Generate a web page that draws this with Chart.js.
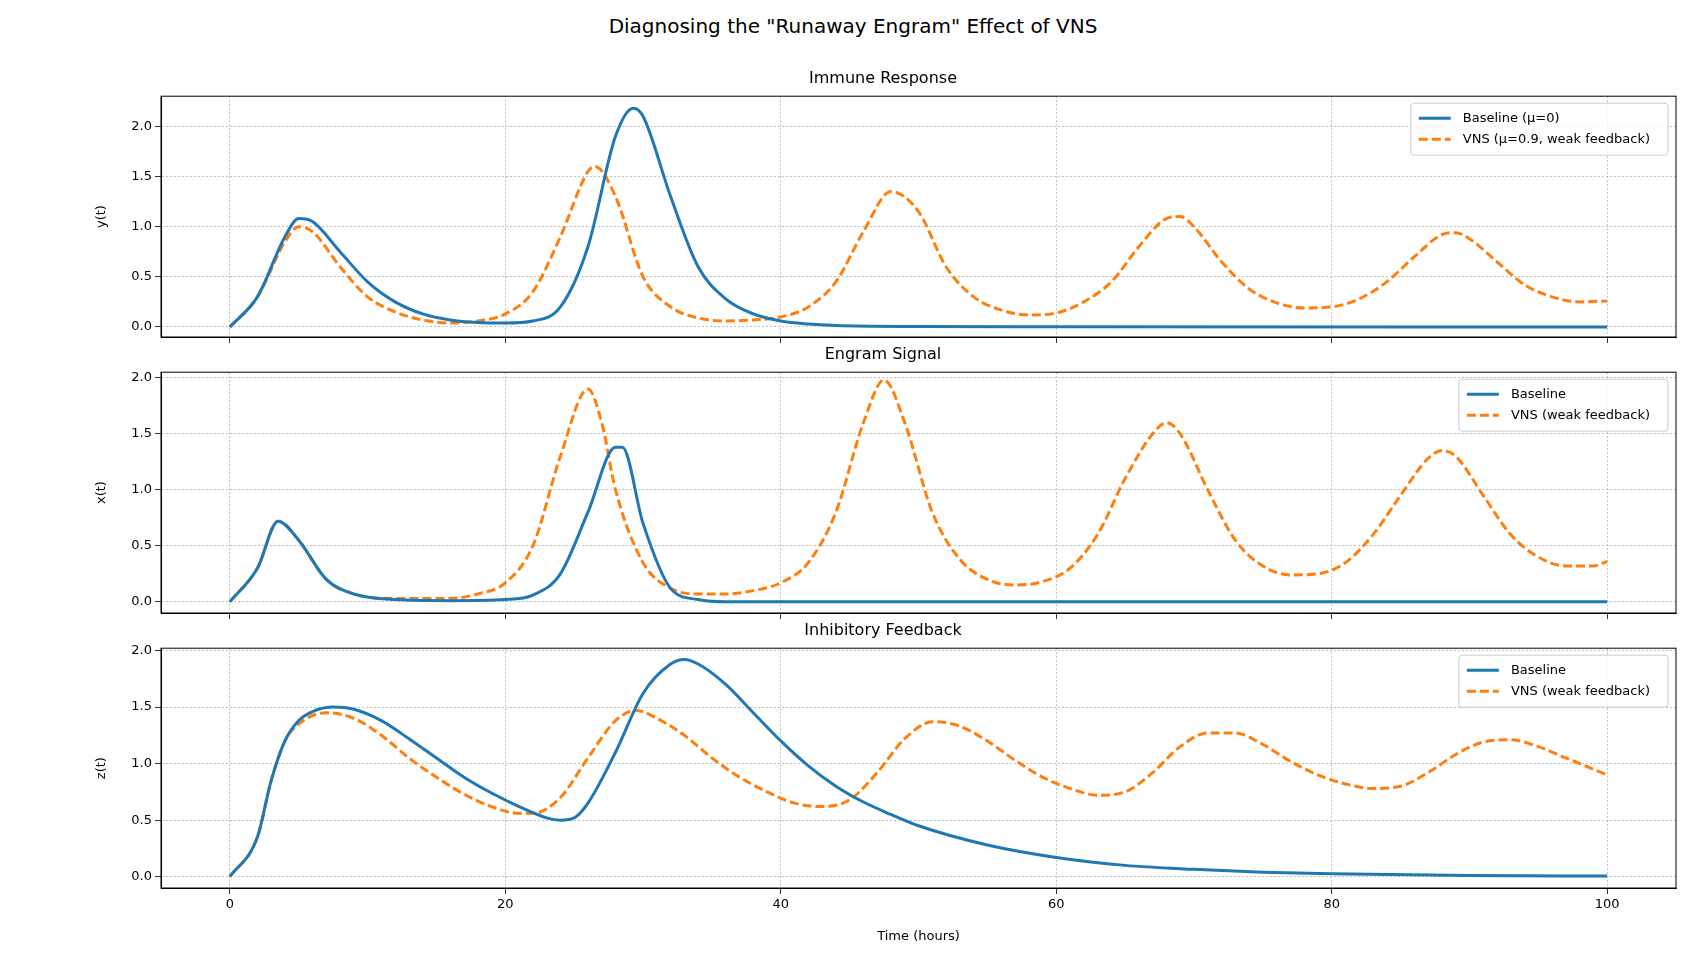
<!DOCTYPE html>
<html>
<head>
<meta charset="utf-8">
<script src="https://cdn.jsdelivr.net/npm/chart.js@4.4.1/dist/chart.umd.min.js"></script>
<style>
  body { margin: 0; background: #fff; font-family: "DejaVu Sans", sans-serif; }
  #title { position: absolute; top: 14px; left: 0; width: 1706px; text-align: center; font-size: 20px; color: #000; }
  .panel { position: absolute; left: 0; width: 1706px; }
</style>
</head>
<body>
<div id="title">Diagnosing the "Runaway Engram" Effect of VNS</div>
<div class="panel" style="top:65px;height:302px"><canvas id="c1"></canvas></div>
<div class="panel" style="top:341px;height:302px"><canvas id="c2"></canvas></div>
<div class="panel" style="top:617px;height:331px"><canvas id="c3"></canvas></div>
<script>
// immune response y(t)
const yBaseT = [0,2,4,5,6,8,10,12,14,16,18,20,22,24,26,28,29.3,30,32,34,36,38,40,42,44,50,60,100];
const yBase  = [0,0.3,0.9,1.08,1.05,0.75,0.45,0.25,0.13,0.07,0.045,0.04,0.06,0.2,0.8,1.9,2.18,2.1,1.3,0.6,0.28,0.13,0.06,0.03,0.015,0.005,0.002,0];
const yVnsT = [0,2,4,5,6,8,10,12,14,16,18,20,22,24,26,26.5,28,30,32,34,36,38,40,42,44,46,48,50,52,54,56,58,60,62,64,66,68,69,70,72,74,76,78,80,82,84,86,88,89,90,92,94,96,98,100];
const yVns  = [0,0.3,0.85,1.0,0.95,0.6,0.3,0.15,0.07,0.04,0.06,0.13,0.35,0.9,1.55,1.6,1.3,0.5,0.2,0.09,0.06,0.07,0.1,0.2,0.45,0.95,1.35,1.15,0.6,0.3,0.17,0.12,0.14,0.25,0.45,0.8,1.08,1.1,1.0,0.65,0.38,0.24,0.19,0.2,0.28,0.45,0.7,0.92,0.94,0.88,0.65,0.42,0.3,0.25,0.26];

// engram signal x(t)
const xBaseT = [0,2,3.5,5,7,9,12,16,20,22,24,26,28,28.5,30,32,34,36,100];
const xBase  = [0,0.3,0.72,0.55,0.2,0.07,0.02,0.01,0.02,0.06,0.25,0.8,1.38,1.38,0.7,0.12,0.02,0,0];
const xVnsT = [0,2,3.5,5,7,9,12,16,18,20,22,24,26,27,28,30,32,34,36,38,40,42,44,46,47.5,49,51,53,55,57,59,61,63,65,67,68,69,71,73,75,77,79,81,83,85,87,88,89,91,93,95,97,99,100];
const xVns  = [0,0.3,0.72,0.55,0.2,0.07,0.03,0.03,0.07,0.17,0.5,1.3,1.9,1.6,1.0,0.35,0.12,0.07,0.07,0.1,0.17,0.35,0.8,1.6,1.98,1.6,0.8,0.38,0.2,0.15,0.18,0.3,0.6,1.1,1.5,1.6,1.5,1.0,0.55,0.32,0.24,0.25,0.35,0.6,0.95,1.28,1.35,1.3,0.95,0.6,0.4,0.32,0.32,0.36];

// inhibitory feedback z(t)
const zBaseT = [0,2,3,4,5,6,7.5,9,11,13,15,17,19,21,23,24,25,26,28,30,32,33,34,36,38,40,42,44,46,48,50,55,60,65,70,75,80,90,100];
const zBase  = [0,0.35,0.85,1.2,1.38,1.46,1.5,1.48,1.38,1.22,1.05,0.88,0.74,0.62,0.52,0.5,0.52,0.65,1.1,1.62,1.88,1.92,1.88,1.7,1.45,1.2,0.98,0.8,0.66,0.55,0.45,0.28,0.17,0.1,0.065,0.04,0.025,0.01,0.005];
const zVnsT = [0,2,3,4,5,7,9,11,13,15,17,19,21,22,24,26,28,29.5,31,33,35,37,39,41,43,45,47,49,51,53,55,57,59,61,63,65,67,69,71,73,75,77,79,81,83,85,87,89,91,93,95,97,99,100];
const zVns  = [0,0.35,0.85,1.2,1.35,1.45,1.4,1.25,1.05,0.88,0.73,0.62,0.56,0.56,0.7,1.05,1.38,1.47,1.4,1.25,1.05,0.88,0.75,0.65,0.62,0.68,0.92,1.22,1.37,1.33,1.2,1.03,0.88,0.78,0.72,0.75,0.92,1.15,1.27,1.27,1.17,1.02,0.9,0.82,0.78,0.8,0.92,1.08,1.19,1.21,1.15,1.05,0.95,0.9];

const BLUE = '#1f77b4', ORANGE = '#ff7f0e';
const pts = (t, v) => t.map((x, i) => ({ x, y: v[i] }));

// matplotlib-style legend box in the top-right corner of the plot
const legendBox = {
  id: 'legendBox',
  afterDraw(chart) {
    const a = chart.chartArea, c = chart.ctx;
    const ds = chart.data.datasets;
    c.save();
    c.font = '13px "DejaVu Sans"';
    const tw = Math.max(...ds.map(d => c.measureText(d.label).width));
    const w = tw + 70, h = ds.length * 21 + 10;
    const x0 = a.right - 8 - w, y0 = a.top + 7;
    c.fillStyle = 'rgba(255,255,255,0.8)';
    c.strokeStyle = '#cccccc'; c.lineWidth = 1;
    c.beginPath(); c.roundRect(x0, y0, w, h, 3); c.fill(); c.stroke();
    ds.forEach((d, i) => {
      const y = y0 + 15 + i * 21;
      c.strokeStyle = d.borderColor; c.lineWidth = 3;
      c.setLineDash(d.borderDash || []);
      c.beginPath(); c.moveTo(x0 + 8, y); c.lineTo(x0 + 40, y); c.stroke();
      c.setLineDash([]);
      c.fillStyle = '#000'; c.textBaseline = 'middle';
      c.fillText(d.label, x0 + 52, y);
    });
    c.restore();
  }
};

function makeChart(id, title, ylabel, yMax, sets, showX) {
  new Chart(document.getElementById(id), {
    type: 'line',
    data: {
      datasets: [
        { label: sets[0][0], data: pts(sets[0][1], sets[0][2]), borderColor: BLUE, borderWidth: 3, pointRadius: 0, cubicInterpolationMode: 'monotone' },
        { label: sets[1][0], data: pts(sets[1][1], sets[1][2]), borderColor: ORANGE, borderWidth: 3, borderDash: [9, 4], pointRadius: 0, cubicInterpolationMode: 'monotone' }
      ]
    },
    options: {
      responsive: true, maintainAspectRatio: false, animation: false,
      layout: { padding: { left: 90, right: 30, top: 0, bottom: 0 } },
      plugins: {
        title: { display: true, text: title, color: '#000', font: { size: 16, family: 'DejaVu Sans', weight: 'normal' }, padding: { top: 4, bottom: 8 } },
        legend: { display: false },
        tooltip: { enabled: false }
      },
      scales: {
        x: {
          type: 'linear', min: -5, max: 105,
          afterBuildTicks: s => { s.ticks = [0, 20, 40, 60, 80, 100].map(v => ({ value: v })); },
          afterFit: s => { s.height = showX ? 60 : 30; },
          ticks: { display: showX, color: '#000', font: { size: 13, family: 'DejaVu Sans' }, maxRotation: 0 },
          grid: { color: '#b0b0b0', tickColor: '#000', tickLength: 6, lineWidth: 0.8 },
          border: { color: '#000', dash: [2, 2] },
          title: { display: showX, text: 'Time (hours)', color: '#000', font: { size: 13, family: 'DejaVu Sans' } }
        },
        y: {
          min: -0.1, max: yMax,
          afterBuildTicks: s => { s.ticks = [0, 0.5, 1, 1.5, 2].map(v => ({ value: v })); },
          afterFit: s => { s.width = 71; },
          ticks: { color: '#000', font: { size: 13, family: 'DejaVu Sans' }, callback: v => v.toFixed(1) },
          grid: { color: '#b0b0b0', tickColor: '#000', tickLength: 6, lineWidth: 0.8 },
          border: { color: '#000', dash: [2, 2] },
          title: { display: true, text: ylabel, color: '#000', font: { size: 13, family: 'DejaVu Sans' } }
        }
      }
    },
    plugins: [legendBox, {
      id: 'frame',
      afterDraw(chart) {
        const a = chart.chartArea, c = chart.ctx;
        c.save(); c.strokeStyle = '#000'; c.lineWidth = 1;
        c.strokeRect(a.left, a.top, a.right - a.left, a.bottom - a.top); c.restore();
      }
    }]
  });
}

makeChart('c1', 'Immune Response', 'y(t)', 2.3,
  [['Baseline (μ=0)', yBaseT, yBase], ['VNS (μ=0.9, weak feedback)', yVnsT, yVns]], false);
makeChart('c2', 'Engram Signal', 'x(t)', 2.05,
  [['Baseline', xBaseT, xBase], ['VNS (weak feedback)', xVnsT, xVns]], false);
makeChart('c3', 'Inhibitory Feedback', 'z(t)', 2.02,
  [['Baseline', zBaseT, zBase], ['VNS (weak feedback)', zVnsT, zVns]], true);
</script>
</body>
</html>
